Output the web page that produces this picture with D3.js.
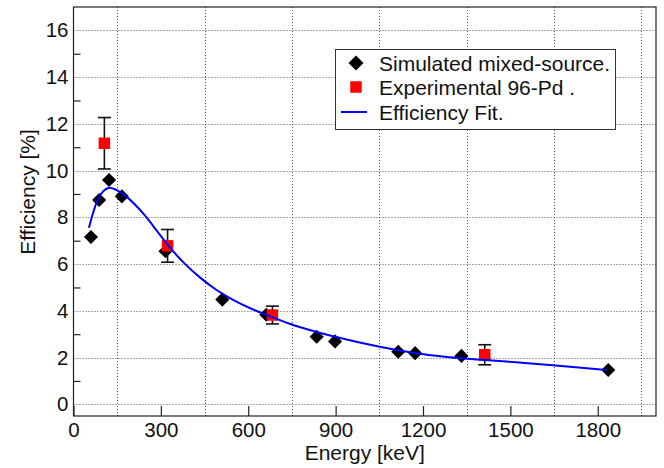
<!DOCTYPE html>
<html>
<head>
<meta charset="utf-8">
<script src="https://cdn.jsdelivr.net/npm/d3@7"></script>
<style>
  html, body { margin: 0; padding: 0; background: #fff; }
  svg { display: block; font-family: "Liberation Sans", Arial, Helvetica, sans-serif; }
  .axis path, .axis line { stroke: #222; }
  .axis text { font-size: 20.5px; fill: #111; }
</style>
</head>
<body>
<svg id="chart" width="664" height="468"></svg>
<script>
// Simulated mixed-source efficiencies
const simEnergy = [60, 88, 122, 166, 316, 511, 662, 835, 898, 1115, 1173, 1332, 1836];
const simEff    = [7.16, 8.74, 9.6, 8.9, 6.55, 4.48, 3.83, 2.89, 2.69, 2.25, 2.19, 2.07, 1.47];

// Experimental 96-Pd points with uncertainties
const expEnergy = [106, 323, 683, 1412];
const expEff    = [11.17, 6.78, 3.82, 2.12];
const expErr    = [1.1, 0.7, 0.38, 0.43];

// Efficiency fit curve
const fitEnergy = [53, 68, 85, 102, 120, 142, 177, 211, 245, 291, 325, 380, 435, 490, 548, 605, 662, 742, 811, 891, 1051, 1165, 1291, 1400, 1508, 1645, 1830];
const fitEff    = [7.55, 8.22, 8.8, 9.12, 9.26, 9.2, 8.93, 8.55, 8.08, 7.35, 6.8, 6.04, 5.42, 4.9, 4.47, 4.12, 3.83, 3.45, 3.18, 2.91, 2.46, 2.21, 2.01, 1.91, 1.81, 1.67, 1.47];

// Axis ticks and grid positions
const xTickValues = [0, 300, 600, 900, 1200, 1500, 1800];
const xGridValues = [150, 450, 750, 1050, 1350, 1650, 1950];
const yTickValues = [0, 2, 4, 6, 8, 10, 12, 14, 16];
const yMinorValues = [1, 3, 5, 7, 9, 11, 13, 15];

const legendLabels = ["Simulated mixed-source.", "Experimental 96-Pd .", "Efficiency Fit."];

const svg = d3.select("#chart");
const plotL = 73.5, plotR = 656, plotT = 7, plotB = 416;

const x = d3.scaleLinear().domain([0, 2000]).range([plotL, plotR]);
const y = d3.scaleLinear().domain([-0.5, 17]).range([plotB, plotT]);

// dotted grid
const grid = svg.append("g").attr("stroke", "#555").attr("stroke-width", 1).attr("stroke-dasharray", "1,2");
grid.selectAll("line.h").data(yTickValues).join("line").attr("class", "h")
  .attr("x1", plotL).attr("x2", plotR)
  .attr("y1", d => Math.round(y(d)) + 0.5).attr("y2", d => Math.round(y(d)) + 0.5);
grid.selectAll("line.v").data(xGridValues).join("line").attr("class", "v")
  .attr("y1", plotT).attr("y2", plotB)
  .attr("x1", d => Math.round(x(d)) + 0.5).attr("x2", d => Math.round(x(d)) + 0.5);

// frame
svg.append("rect").attr("x", plotL).attr("y", plotT).attr("width", plotR - plotL).attr("height", plotB - plotT)
  .attr("fill", "none").attr("stroke", "#222").attr("stroke-width", 1.2);

// x axis: labelled ticks pointing into the plot
const xAxis = svg.append("g").attr("class", "axis").attr("transform", `translate(0,${plotB})`)
  .call(d3.axisBottom(x).tickValues(xTickValues).tickSize(-10).tickPadding(6).tickFormat(d3.format("d")));
xAxis.select(".domain").remove();
xAxis.selectAll("line").attr("stroke-width", 1.2);

// y axis: labels at even values, short ticks at odd values
const yAxis = svg.append("g").attr("class", "axis").attr("transform", `translate(${plotL},0)`)
  .call(d3.axisLeft(y).tickValues(yTickValues).tickSize(0).tickPadding(5).tickFormat(d3.format("d")));
yAxis.select(".domain").remove();
const yMinor = svg.append("g").attr("class", "axis").attr("transform", `translate(${plotL},0)`)
  .call(d3.axisLeft(y).tickValues(yMinorValues).tickSize(-7).tickFormat(""));
yMinor.select(".domain").remove();
yMinor.selectAll("line").attr("stroke-width", 1.2);

// axis titles
svg.append("text").attr("x", (plotL + plotR) / 2).attr("y", 460).attr("text-anchor", "middle")
  .attr("font-size", 21).attr("fill", "#111").text("Energy [keV]");
svg.append("text").attr("transform", "translate(35,192) rotate(-90)").attr("text-anchor", "middle")
  .attr("font-size", 21).attr("fill", "#111").text("Efficiency [%]");

const diamond = d3.symbol().type(d3.symbolSquare).size(100);
const square = d3.symbol().type(d3.symbolSquare).size(132);

// simulated points
svg.append("g").selectAll("path").data(simEnergy).join("path")
  .attr("d", diamond)
  .attr("transform", (d, i) => `translate(${x(d)},${y(simEff[i])}) rotate(45)`)
  .attr("fill", "#000");

// experimental error bars
const eb = svg.append("g").attr("stroke", "#111").attr("stroke-width", 1.6);
expEnergy.forEach((e, i) => {
  const cx = x(e), y1 = y(expEff[i] + expErr[i]), y2 = y(expEff[i] - expErr[i]);
  eb.append("line").attr("x1", cx).attr("x2", cx).attr("y1", y1).attr("y2", y2);
  eb.append("line").attr("x1", cx - 6.5).attr("x2", cx + 6.5).attr("y1", y1).attr("y2", y1);
  eb.append("line").attr("x1", cx - 6.5).attr("x2", cx + 6.5).attr("y1", y2).attr("y2", y2);
});

// experimental points
svg.append("g").selectAll("path").data(expEnergy).join("path")
  .attr("d", square)
  .attr("transform", (d, i) => `translate(${x(d)},${y(expEff[i])})`)
  .attr("fill", "#f00");

// fit curve
const line = d3.line().x(d => x(d[0])).y(d => y(d[1])).curve(d3.curveCatmullRom.alpha(0.5));
svg.append("path").datum(fitEnergy.map((e, i) => [e, fitEff[i]]))
  .attr("d", line).attr("fill", "none").attr("stroke", "#0000ff").attr("stroke-width", 2);

// legend
const lg = svg.append("g");
lg.append("rect").attr("x", 335.5).attr("y", 49.5).attr("width", 280).attr("height", 80)
  .attr("fill", "#fff").attr("stroke", "#333").attr("stroke-width", 1);
const rowY = [63, 87, 112];
lg.append("path").attr("d", d3.symbol().type(d3.symbolSquare).size(112))
  .attr("transform", `translate(356,${rowY[0]}) rotate(45)`).attr("fill", "#000");
lg.append("path").attr("d", square).attr("transform", `translate(356,${rowY[1]})`).attr("fill", "#f00");
lg.append("line").attr("x1", 341).attr("x2", 367).attr("y1", rowY[2]).attr("y2", rowY[2])
  .attr("stroke", "#0000ff").attr("stroke-width", 2);
lg.selectAll("text").data(legendLabels).join("text")
  .attr("x", 379).attr("y", (d, i) => rowY[i]).attr("dy", "0.36em")
  .attr("font-size", 21).attr("fill", "#111").text(d => d);
</script>
</body>
</html>
